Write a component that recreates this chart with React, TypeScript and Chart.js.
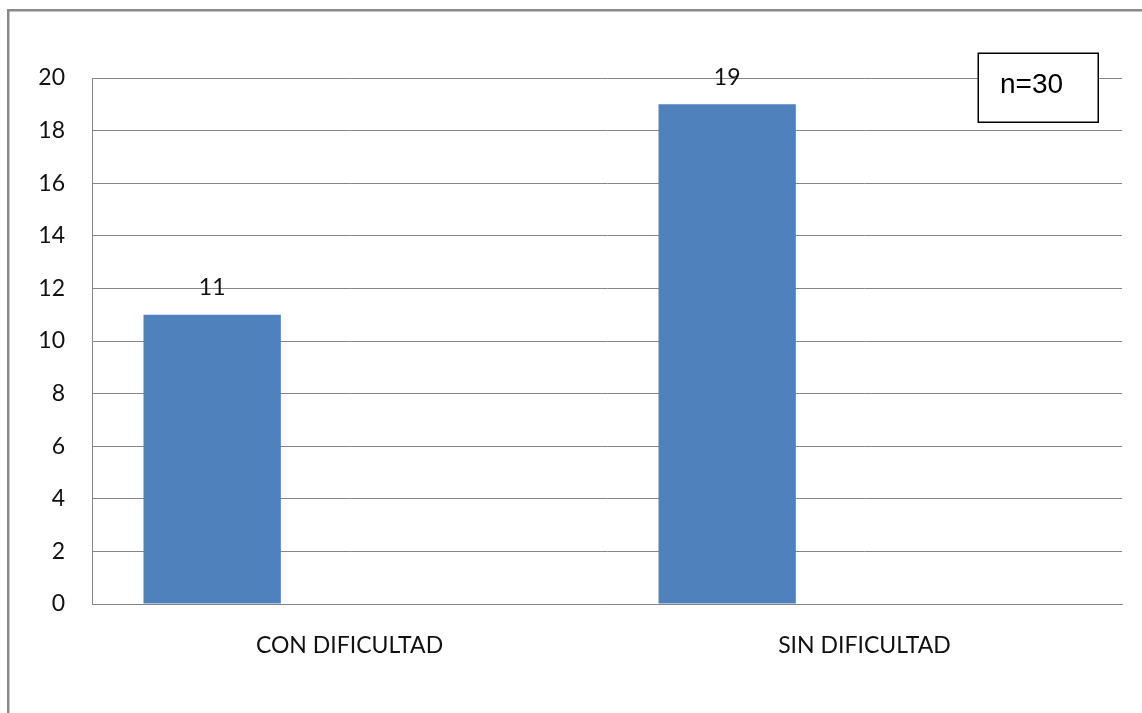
import React, { useEffect, useRef } from "react";
import { Chart, registerables } from "chart.js";

Chart.register(...registerables);

const categories = ["CON DIFICULTAD", "SIN DIFICULTAD"];
const seriesMain = [11, 19];
const seriesEmptyA: (number | null)[] = [null, null];
const seriesEmptyB: (number | null)[] = [null, null];
const yMin = 0;
const yMax = 20;
const yStep = 2;
const boxText = "n=30";

const W = 1142;
const H = 713;

const decorPlugin = {
  id: "decor",
  afterDatasetsDraw(chart: any) {
    const ctx = chart.ctx;
    const meta = chart.getDatasetMeta(0);
    ctx.save();
    ctx.fillStyle = "#111111";
    ctx.font = "23px Lato";
    ctx.textAlign = "center";
    ctx.textBaseline = "middle";
    meta.data.forEach((el: any, i: number) => {
      const v = seriesMain[i];
      if (v == null) return;
      ctx.fillText(String(v), el.x, el.y - 27);
    });
    ctx.restore();
  },
  afterDraw(chart: any) {
    const ctx = chart.ctx;
    ctx.save();
    // outer frame
    ctx.strokeStyle = "#8a8a8a";
    ctx.lineWidth = 2.5;
    ctx.strokeRect(8.25, 10.25, W + 20, H + 20);
    // n box
    ctx.fillStyle = "#ffffff";
    ctx.fillRect(978, 53, 120, 69);
    ctx.strokeStyle = "#000000";
    ctx.lineWidth = 1.5;
    ctx.strokeRect(978.25, 53.25, 120, 69);
    ctx.fillStyle = "#000000";
    ctx.font = "28px 'Liberation Sans'";
    ctx.textAlign = "left";
    ctx.textBaseline = "middle";
    ctx.fillText(boxText, 1000, 85);
    ctx.restore();
  },
};

export default function App() {
  const ref = useRef<HTMLCanvasElement | null>(null);
  useEffect(() => {
    if (!ref.current) return;
    const chart = new Chart(ref.current, {
      type: "bar",
      data: {
        labels: categories,
        datasets: [
          { data: seriesMain, backgroundColor: "#4F81BD", borderWidth: 0 },
          { data: seriesEmptyA as any, backgroundColor: "#C0504D", borderWidth: 0 },
          { data: seriesEmptyB as any, backgroundColor: "#9BBB59", borderWidth: 0 },
        ],
      },
      options: {
        responsive: false,
        animation: false,
        devicePixelRatio: 1,
        layout: { padding: { left: 0, top: 78, right: 20, bottom: 0 } },
        plugins: { legend: { display: false }, tooltip: { enabled: false } },
        datasets: { bar: { categoryPercentage: 0.8, barPercentage: 1.0 } },
        scales: {
          x: {
            grid: { display: false, drawTicks: false },
            border: { display: true, color: "#868686", width: 1 },
            ticks: {
              color: "#111111",
              font: { family: "Lato", size: 23 },
              padding: 28,
              maxRotation: 0,
            },
            afterFit: (s: any) => {
              s.height = 109;
            },
          },
          y: {
            min: yMin,
            max: yMax,
            ticks: {
              stepSize: yStep,
              color: "#111111",
              font: { family: "Lato", size: 23 },
              padding: 27,
            },
            grid: { color: "#868686", drawTicks: false, lineWidth: 1 },
            border: { display: true, color: "#868686", width: 1 },
            afterFit: (s: any) => {
              s.width = 92;
            },
          },
        },
      },
      plugins: [decorPlugin],
    });
    return () => chart.destroy();
  }, []);
  return (
    <canvas
      ref={ref}
      width={W}
      height={H}
      style={{ position: "fixed", left: 0, top: 0, width: W, height: H, background: "#fff" }}
    />
  );
}
